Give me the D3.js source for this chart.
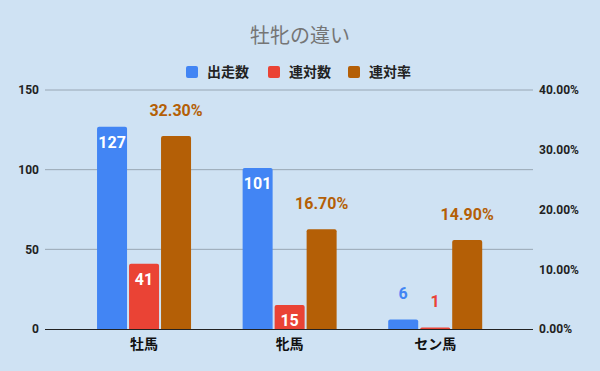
<!doctype html>
<html>
<head>
<meta charset="UTF-8">
<title>牡牝の違い</title>
<script src="https://cdnjs.cloudflare.com/ajax/libs/d3/7.8.5/d3.min.js"></script>
<style>
	body { margin: 0; background: #cfe2f3; }
	svg { display: block; }
	text { font-family: Roboto, "Noto Sans CJK JP", sans-serif; }
</style>
</head>
<body>
<svg id="chart"></svg>
<script>
(function(){
	'use strict'

	// data
	const categories = ['牡馬', '牝馬', 'セン馬'];
	const seriesNames = ['出走数', '連対数', '連対率'];
	const starts = [127, 101, 6];
	const placings = [41, 15, 1];
	const rates = [32.3, 16.7, 14.9];
	const leftTicks = [0, 50, 100, 150];
	const rightTicks = [0, 10, 20, 30, 40];

	const colors = ['#4285f4', '#ea4335', '#b45f06'];
	const width = 600, height = 371;
	const plot = {left: 45, right: 533, top: 90, bottom: 329};

	const svg = d3.select('#chart').attr('width', width).attr('height', height);
	svg.append('rect').attr('width', width).attr('height', height).attr('fill', '#cfe2f3');

	// scales
	let x0 = d3.scaleBand().domain(categories).range([71.25, 508]).padding(0);
	let x1 = d3.scaleBand().domain(seriesNames).range([-47, 47]).paddingInner(0.0625).paddingOuter(0);
	let yLeft = d3.scaleLinear().domain([0, 150]).range([plot.bottom, plot.top]);
	let yRight = d3.scaleLinear().domain([0, 40]).range([plot.bottom, plot.top]);

	// title
	svg.append('text')
		.attr('x', 300).attr('y', 43)
		.attr('text-anchor', 'middle')
		.attr('font-size', '20px')
		.attr('fill', '#757575')
		.style('font-family', '"Noto Sans CJK JP", sans-serif')
		.text('牡牝の違い');

	// legend
	const legendX = [186, 268, 348];
	seriesNames.forEach(function(name, i){
		svg.append('rect')
			.attr('x', legendX[i]).attr('y', 66)
			.attr('width', 12).attr('height', 12)
			.attr('rx', 2)
			.attr('fill', colors[i]);
		svg.append('text')
			.attr('x', legendX[i] + 21).attr('y', 77)
			.attr('font-size', '14px')
			.attr('font-weight', 'bold')
			.attr('fill', '#222')
			.style('font-family', '"Noto Sans CJK JP", sans-serif')
			.text(name);
	});

	// gridlines
	svg.append('g')
		.selectAll('line')
		.data(leftTicks.filter(function(d){ return d > 0; }))
		.join('line')
		.attr('x1', plot.left).attr('x2', plot.right)
		.attr('y1', function(d){ return yLeft(d); })
		.attr('y2', function(d){ return yLeft(d); })
		.attr('stroke', '#98a6b4')
		.attr('stroke-width', 1);

	// axes
	let leftAxis = svg.append('g')
		.attr('transform', 'translate(' + plot.left + ',0)')
		.call(d3.axisLeft(yLeft).tickValues(leftTicks).tickSize(0).tickPadding(6));
	leftAxis.select('.domain').remove();
	leftAxis.selectAll('text')
		.attr('font-size', '12px').attr('font-weight', 'bold').attr('fill', '#222')
		.style('font-family', 'Roboto, sans-serif');

	let rightAxis = svg.append('g')
		.attr('transform', 'translate(' + plot.right + ',0)')
		.call(d3.axisRight(yRight).tickValues(rightTicks).tickSize(0).tickPadding(6)
			.tickFormat(function(d){ return d.toFixed(2) + '%'; }));
	rightAxis.select('.domain').remove();
	rightAxis.selectAll('text')
		.attr('font-size', '12px').attr('font-weight', 'bold').attr('fill', '#222')
		.style('font-family', 'Roboto, sans-serif');

	// bars
	const seriesValues = [starts, placings, rates];
	const seriesScales = [yLeft, yLeft, yRight];
	const labelFormats = [
		function(d){ return String(d); },
		function(d){ return String(d); },
		function(d){ return d.toFixed(2) + '%'; }
	];

	function topRoundedBar(x, y, w, h, r){
		r = Math.min(r, h, w / 2);
		return 'M' + x + ',' + (y + h) +
			'V' + (y + r) +
			'Q' + x + ',' + y + ' ' + (x + r) + ',' + y +
			'H' + (x + w - r) +
			'Q' + (x + w) + ',' + y + ' ' + (x + w) + ',' + (y + r) +
			'V' + (y + h) + 'Z';
	}

	seriesNames.forEach(function(name, s){
		let scale = seriesScales[s];
		let g = svg.append('g');
		categories.forEach(function(cat, i){
			let v = seriesValues[s][i];
			let bx = x0(cat) + x0.bandwidth() / 2 + x1(name);
			let bw = x1.bandwidth();
			let by = scale(v);
			let bh = plot.bottom - by;
			g.append('path')
				.attr('d', topRoundedBar(bx, by, bw, bh, 2))
				.attr('fill', colors[s]);

			// counts sit inside tall bars, everything else above the bar
			let inside = s < 2 && bh > 20;
			g.append('text')
				.attr('x', bx + bw / 2)
				.attr('y', inside ? by + 21 : by - 20)
				.attr('text-anchor', 'middle')
				.attr('font-size', '16px')
				.attr('font-weight', 'bold')
				.attr('fill', inside ? '#fff' : colors[s])
				.text(labelFormats[s](v));
		});
	});

	// baseline
	svg.append('line')
		.attr('x1', plot.left).attr('x2', plot.right)
		.attr('y1', plot.bottom + 0.5).attr('y2', plot.bottom + 0.5)
		.attr('stroke', '#222').attr('stroke-width', 1.2);

	// category labels
	svg.append('g')
		.selectAll('text')
		.data(categories)
		.join('text')
		.attr('x', function(d){ return x0(d) + x0.bandwidth() / 2; })
		.attr('y', 349)
		.attr('text-anchor', 'middle')
		.attr('font-size', '14px')
		.attr('font-weight', 'bold')
		.attr('fill', '#111')
		.style('font-family', '"Noto Sans CJK JP", sans-serif')
		.text(function(d){ return d; });
})();
</script>
</body>
</html>
